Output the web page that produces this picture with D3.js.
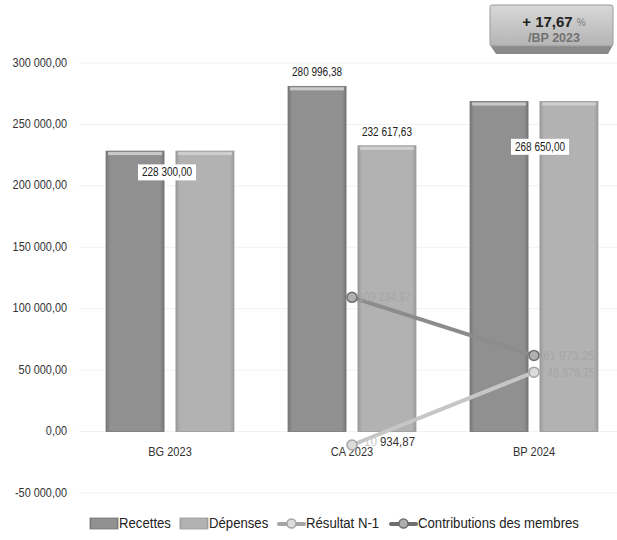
<!DOCTYPE html>
<html>
<head>
<meta charset="utf-8">
<script src="https://cdn.jsdelivr.net/npm/d3@7"></script>
<style>
  html, body { margin: 0; padding: 0; background: #fff; }
  svg { display: block; font-family: "Liberation Sans", Arial, sans-serif; }
</style>
</head>
<body>
<svg id="chart" width="617" height="540"></svg>
<script>
// Budget figures per exercise
const categories = ["BG 2023", "CA 2023", "BP 2024"];
const barSeries = ["Recettes", "Dépenses"];
const recettes = [228300.00, 280996.38, 268650.00];
const depenses = [228300.00, 232617.63, 268650.00];
const resultatN1 = [null, -10934.87, 48378.75];
const contributions = [null, 109234.97, 61973.25];
const yTicks = [-50000, 0, 50000, 100000, 150000, 200000, 250000, 300000];
const badgeMain = "+ 17,67";
const badgeSub = "/BP 2023";

const fmt = v => {
  const s = Math.abs(v).toFixed(2).split(".");
  const int = s[0].replace(/\B(?=(\d{3})+(?!\d))/g, " ");
  return (v < 0 ? "-" : "") + int + "," + s[1];
};

// Condense text horizontally (narrow face look)
function squeeze(sel, factor) {
  sel.each(function () {
    const w = this.getComputedTextLength();
    d3.select(this).attr("textLength", w * factor).attr("lengthAdjust", "spacingAndGlyphs");
  });
}
function fitWidth(sel, width) {
  sel.attr("textLength", width).attr("lengthAdjust", "spacingAndGlyphs");
}

const svg = d3.select("#chart");
const defs = svg.append("defs");

const y = d3.scaleLinear().domain([-50000, 300000]).range([493, 63]);
const x0 = d3.scaleBand().domain(categories).range([79, 625]).paddingInner(0.297).paddingOuter(0.1485);
const x1 = d3.scaleBand().domain(barSeries).range([0, x0.bandwidth()]).paddingInner(0.17);

const colors = { "Recettes": ["#767676", "#909090"], "Dépenses": ["#9a9a9a", "#b2b2b2"] };
barSeries.forEach((s, i) => {
  const g = defs.append("linearGradient").attr("id", "bar" + i).attr("x1", 0).attr("x2", 1).attr("y1", 0).attr("y2", 0);
  g.append("stop").attr("offset", 0).attr("stop-color", colors[s][0]);
  g.append("stop").attr("offset", 0.07).attr("stop-color", colors[s][1]);
  g.append("stop").attr("offset", 0.93).attr("stop-color", colors[s][1]);
  g.append("stop").attr("offset", 1).attr("stop-color", colors[s][0]);
});

// Gridlines
svg.append("g").selectAll("line").data(yTicks).join("line")
  .attr("x1", 79).attr("x2", 617)
  .attr("y1", d => y(d)).attr("y2", d => y(d))
  .attr("stroke", "#f1f1f1").attr("stroke-width", 1);

// Y axis labels
const yAxis = d3.axisLeft(y).tickValues(yTicks).tickSize(0).tickPadding(0).tickFormat(fmt);
svg.append("g").attr("transform", "translate(67,-1)").call(yAxis)
  .call(g => g.select(".domain").remove())
  .selectAll("text").attr("font-size", 12.5).attr("fill", "#333").attr("font-family", "inherit")
  .call(squeeze, 0.87);

// Bars
const barData = [];
categories.forEach((c, ci) => {
  barData.push({ cat: c, series: "Recettes", idx: 0, value: recettes[ci] });
  barData.push({ cat: c, series: "Dépenses", idx: 1, value: depenses[ci] });
});
const bars = svg.append("g").selectAll("g").data(barData).join("g")
  .attr("transform", d => `translate(${x0(d.cat) + x1(d.series)},0)`);
bars.append("rect")
  .attr("y", d => y(d.value)).attr("height", d => y(0) - y(d.value))
  .attr("width", x1.bandwidth())
  .attr("fill", d => `url(#bar${d.idx})`)
  .attr("stroke", d => colors[d.series][0]).attr("stroke-width", 0.8);
bars.append("rect")
  .attr("x", 2).attr("y", d => y(d.value) + 1).attr("height", 3)
  .attr("width", x1.bandwidth() - 4)
  .attr("fill", "#d4d4d4").attr("opacity", 0.85);

// X axis category labels
const xAxis = d3.axisBottom(x0).tickSize(0).tickPadding(0);
svg.append("g").attr("transform", `translate(0,${y(0) + 15})`).call(xAxis)
  .call(g => g.select(".domain").remove())
  .selectAll("text").attr("font-size", 13).attr("fill", "#333").attr("font-family", "inherit")
  .call(squeeze, 0.85);

// Bar value labels
function boxedLabel(cx, cy, text, boxed) {
  const g = svg.append("g");
  const t = g.append("text").attr("x", cx).attr("y", cy).attr("text-anchor", "middle")
    .attr("dominant-baseline", "middle").attr("font-size", 12.5).attr("fill", "#222").text(text)
    .call(squeeze, 0.8);
  if (boxed) {
    const b = t.node().getBBox();
    g.insert("rect", "text").attr("x", b.x - 4).attr("y", b.y - 1).attr("width", b.width + 8)
      .attr("height", b.height + 2).attr("fill", "#fff");
  }
}
const mid = c => x0(c) + x0.bandwidth() / 2;
boxedLabel(mid("BG 2023") - 3, y(recettes[0]) + 22, fmt(recettes[0]), true);
boxedLabel(x0("CA 2023") + x1("Recettes") + x1.bandwidth() / 2, y(recettes[1]) - 14, fmt(recettes[1]), false);
boxedLabel(x0("CA 2023") + x1("Dépenses") + x1.bandwidth() / 2, y(depenses[1]) - 13, fmt(depenses[1]), false);
boxedLabel(mid("BP 2024") + 6, y(recettes[2]) + 46, fmt(recettes[2]), true);

// Lines with markers
const lineSeries = [
  { name: "Résultat N-1", values: resultatN1, stroke: "#c6c6c6", fill: "#dcdcdc", edge: "#a4a4a4" },
  { name: "Contributions des membres", values: contributions, stroke: "#8c8c8c", fill: "#b0b0b0", edge: "#6e6e6e" }
];
const line = d3.line().defined(d => d.v !== null).x(d => mid(d.c)).y(d => y(d.v));
lineSeries.forEach(s => {
  const pts = categories.map((c, i) => ({ c, v: s.values[i] }));
  svg.append("path").datum(pts).attr("d", line).attr("fill", "none")
    .attr("stroke", s.stroke).attr("stroke-width", 4).attr("stroke-linecap", "round");
  svg.append("g").selectAll("circle").data(pts.filter(d => d.v !== null)).join("circle")
    .attr("cx", d => mid(d.c)).attr("cy", d => y(d.v)).attr("r", 5)
    .attr("fill", s.fill).attr("stroke", s.edge).attr("stroke-width", 1.5);
});
// Line value labels
const lbl = (xp, yp, text, color, w) => svg.append("text").attr("x", xp).attr("y", yp)
  .attr("dominant-baseline", "middle").attr("font-size", 12.5).attr("fill", color).text(text)
  .call(fitWidth, w);
lbl(mid("CA 2023") + 6, y(contributions[1]), fmt(contributions[1]), "#a6a6a6", 53);
lbl(mid("BP 2024") + 9, y(contributions[2]) + 1, fmt(contributions[2]), "#a6a6a6", 52);
lbl(mid("BP 2024") + 13, y(resultatN1[2]) + 2, fmt(resultatN1[2]), "#a6a6a6", 48);
lbl(mid("CA 2023") + 8, y(resultatN1[1]) - 2, "-10", "#c8c8c8", 17);
lbl(mid("CA 2023") + 28, y(resultatN1[1]) - 2, fmt(resultatN1[1]).replace("-10 ", ""), "#333", 35);

// Variation badge
const badge = svg.append("g").attr("transform", "translate(490,5)");
const bg = defs.append("linearGradient").attr("id", "badge").attr("x1", 0).attr("x2", 0).attr("y1", 0).attr("y2", 1);
bg.append("stop").attr("offset", 0).attr("stop-color", "#d8d8d8");
bg.append("stop").attr("offset", 1).attr("stop-color", "#b4b4b4");
badge.append("path").attr("d", "M0,40 L123,40 L118,49 L6,49 Z").attr("fill", "#8a8a8a");
badge.append("rect").attr("width", 123).attr("height", 41).attr("rx", 2).attr("fill", "url(#badge)")
  .attr("stroke", "#9a9a9a").attr("stroke-width", 1);
const bt = badge.append("text").attr("x", 64).attr("y", 18).attr("text-anchor", "middle")
  .attr("dominant-baseline", "middle").attr("font-weight", "bold").attr("font-size", 15).attr("fill", "#222");
bt.append("tspan").text(badgeMain + " ");
bt.append("tspan").attr("font-size", 10).attr("font-weight", "normal").attr("fill", "#7a7a7a").text("%");
badge.append("text").attr("x", 64).attr("y", 34).attr("text-anchor", "middle")
  .attr("dominant-baseline", "middle").attr("font-weight", "bold").attr("font-size", 12.5).attr("fill", "#727272").text(badgeSub);

// Legend
const legend = svg.append("g").attr("transform", "translate(0,524)");
const legendItems = [
  { name: "Recettes", type: "bar", idx: 0, x: 90 },
  { name: "Dépenses", type: "bar", idx: 1, x: 180 },
  { name: "Résultat N-1", type: "line", s: lineSeries[0], x: 278 },
  { name: "Contributions des membres", type: "line", s: lineSeries[1], x: 390 }
];
legendItems.forEach(it => {
  const g = legend.append("g").attr("transform", `translate(${it.x},0)`);
  if (it.type === "bar") {
    g.append("rect").attr("x", 0).attr("y", -6).attr("width", 28).attr("height", 11)
      .attr("fill", `url(#bar${it.idx})`).attr("stroke", colors[barSeries[it.idx]][0]).attr("stroke-width", 0.8);
  } else {
    g.append("line").attr("x1", 1).attr("x2", 26).attr("y1", 0).attr("y2", 0)
      .attr("stroke", it.s.edge).attr("stroke-width", 4).attr("stroke-linecap", "round");
    g.append("circle").attr("cx", 13.5).attr("cy", -0.5).attr("r", 4.5)
      .attr("fill", it.s.fill).attr("stroke", it.s.edge).attr("stroke-width", 1.5);
  }
  g.append("text").attr("x", it.type === "bar" ? 29 : 28).attr("y", 0).attr("dominant-baseline", "middle")
    .attr("font-size", 14).attr("fill", "#222").text(it.name).call(squeeze, 0.94);
});
</script>
</body>
</html>
